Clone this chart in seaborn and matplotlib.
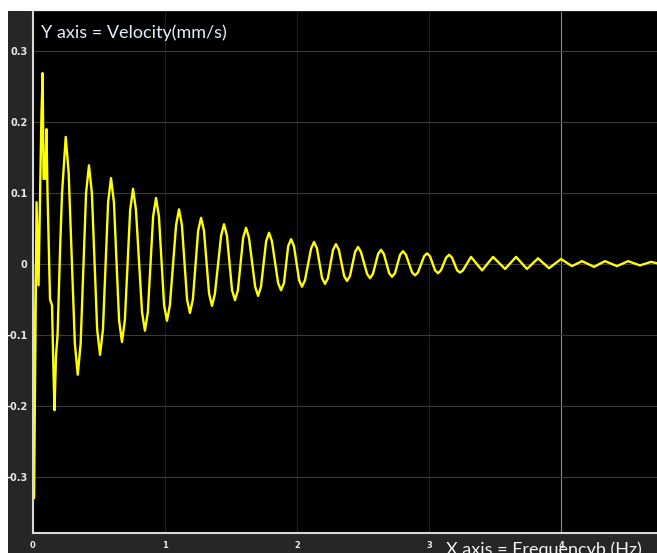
import matplotlib
matplotlib.use("Agg")
import matplotlib.pyplot as plt
import seaborn as sns
import pandas as pd
from matplotlib.patches import Rectangle

# frequency (Hz) and velocity (mm/s)
# start of the trace (irregular part)
freq_start = [0.000, 0.008, 0.027, 0.042, 0.053, 0.064, 0.073, 0.080, 0.091, 0.102,
              0.110, 0.129, 0.144, 0.155, 0.163, 0.174, 0.186, 0.205, 0.220]
vel_start = [0.000, -0.330, 0.087, -0.030, 0.090, 0.210, 0.269, 0.120, 0.120, 0.190,
             0.100, -0.050, -0.058, -0.150, -0.206, -0.130, -0.100, 0.020, 0.100]

# damped oscillation: peaks / troughs with a point on each flank
freq_osc = [0.248, 0.270,
            0.317, 0.339, 0.361,  0.402, 0.424, 0.446,  0.486, 0.508, 0.530,
            0.569, 0.591, 0.613,  0.652, 0.674, 0.696,  0.736, 0.758, 0.780,
            0.826, 0.848, 0.870,  0.910, 0.932, 0.954,  0.993, 1.015, 1.037,
            1.084, 1.106, 1.128,  1.167, 1.189, 1.211,  1.251, 1.273, 1.295,
            1.334, 1.356, 1.378,  1.425, 1.447, 1.469,  1.508, 1.530, 1.552,
            1.592, 1.614, 1.636,  1.683, 1.705, 1.727,  1.766, 1.788, 1.810,
            1.857, 1.879, 1.901,  1.933, 1.955, 1.977,  2.016, 2.038, 2.060,
            2.107, 2.129, 2.151,  2.190, 2.212, 2.234,  2.273, 2.295, 2.317,
            2.357, 2.379, 2.401,  2.440, 2.462, 2.484,  2.531, 2.553, 2.575,
            2.614, 2.636, 2.658,  2.698, 2.720, 2.742,  2.781, 2.803, 2.825,
            2.872, 2.894, 2.916,  2.963, 2.985, 3.007,  3.046, 3.068, 3.090,
            3.130, 3.152, 3.174,  3.213, 3.235, 3.257]
vel_osc = [0.179, 0.129,
           -0.112, -0.156, -0.112,  0.100, 0.139, 0.100,  -0.092, -0.128, -0.092,
           0.087, 0.121, 0.087,  -0.079, -0.110, -0.079,  0.076, 0.106, 0.076,
           -0.068, -0.094, -0.068,  0.067, 0.093, 0.067,  -0.058, -0.080, -0.058,
           0.055, 0.077, 0.055,  -0.050, -0.069, -0.050,  0.047, 0.065, 0.047,
           -0.042, -0.059, -0.042,  0.040, 0.056, 0.040,  -0.037, -0.051, -0.037,
           0.037, 0.051, 0.037,  -0.032, -0.045, -0.032,  0.032, 0.044, 0.032,
           -0.027, -0.037, -0.027,  0.025, 0.035, 0.025,  -0.023, -0.032, -0.023,
           0.022, 0.031, 0.022,  -0.020, -0.028, -0.020,  0.020, 0.028, 0.020,
           -0.017, -0.024, -0.017,  0.017, 0.024, 0.017,  -0.014, -0.020, -0.014,
           0.014, 0.020, 0.014,  -0.013, -0.018, -0.013,  0.013, 0.018, 0.013,
           -0.012, -0.016, -0.012,  0.011, 0.015, 0.011,  -0.009, -0.013, -0.009,
           0.009, 0.013, 0.009,  -0.009, -0.012, -0.009]

# tail (tiny ripple)
freq_tail = [3.318, 3.402, 3.485, 3.576, 3.659, 3.742, 3.826, 3.909, 4.000, 4.083,
             4.159, 4.250, 4.333, 4.424, 4.508, 4.598, 4.682, 4.727]
vel_tail = [0.010, -0.009, 0.010, -0.007, 0.010, -0.007, 0.008, -0.006, 0.007, -0.003,
            0.004, -0.004, 0.004, -0.003, 0.004, -0.002, 0.003, 0.001]

x_ticks = [0, 1, 2, 3, 4]
y_ticks = [-0.3, -0.2, -0.1, 0, 0.1, 0.2, 0.3]
y_labels = ["-0.3", "-0.2", "-0.1", "0", "0.1", "0.2", "0.3"]

df = pd.DataFrame({"freq": freq_start + freq_osc + freq_tail,
                   "velocity": vel_start + vel_osc + vel_tail})

sns.set_style("dark")
fig = plt.figure(figsize=(6.57, 5.53), dpi=100, facecolor="white")
# dark grey frame behind the axes
fig.patches.append(Rectangle((8 / 657, 0), 1, 542 / 553, transform=fig.transFigure,
                             facecolor="#262626", edgecolor="none", zorder=-5))
ax = fig.add_axes([33 / 657, 20 / 553, 624 / 657, 521 / 553])
ax.set_facecolor("black")
ax.set_zorder(1)

sns.lineplot(data=df, x="freq", y="velocity", ax=ax, color="#ffff00",
             linewidth=1.7, estimator=None, sort=False)

ax.set_xlim(0, 4.727)
ax.set_ylim(-0.379, 0.355)
ax.set_xticks(x_ticks)
ax.set_xticklabels([str(t) for t in x_ticks])
ax.set_yticks(y_ticks)
ax.set_yticklabels(y_labels)
ax.set_xlabel("")
ax.set_ylabel("")

ax.grid(True, color="#3a3a3a", linewidth=0.8)
for i, gl in enumerate(ax.get_xgridlines()):
    gl.set_color("#8a8a8a" if i == 4 else "#1e1e1e")

for s in ["top", "right"]:
    ax.spines[s].set_visible(False)
for s in ["left", "bottom"]:
    ax.spines[s].set_visible(True)
    ax.spines[s].set_color("#d8d8d8")
    ax.spines[s].set_linewidth(1.5)

ax.tick_params(axis="y", direction="in", length=8, width=1.2, color="#e0e0e0",
               labelcolor="#e8e8e8", labelsize=7, pad=4)
ax.tick_params(axis="x", direction="in", length=8, width=1.2, color="#e0e0e0",
               labelcolor="#e8e8e8", labelsize=6, pad=6)
for lab in ax.get_xticklabels() + ax.get_yticklabels():
    lab.set_fontweight("bold")

ax.text(41 / 657, 1 - 33 / 553, "Y axis = Velocity(mm/s)", color="#e6eefa",
        fontsize=13, family="Lato", va="center", ha="left",
        transform=fig.transFigure)
ax.text(446 / 657, -2 / 553, "X axis = Frequencyb (Hz)", color="#f2f2f2",
        fontsize=13, family="Lato", va="baseline", ha="left",
        transform=fig.transFigure, clip_on=False)

fig.savefig("out.png", dpi=100, facecolor="white")
